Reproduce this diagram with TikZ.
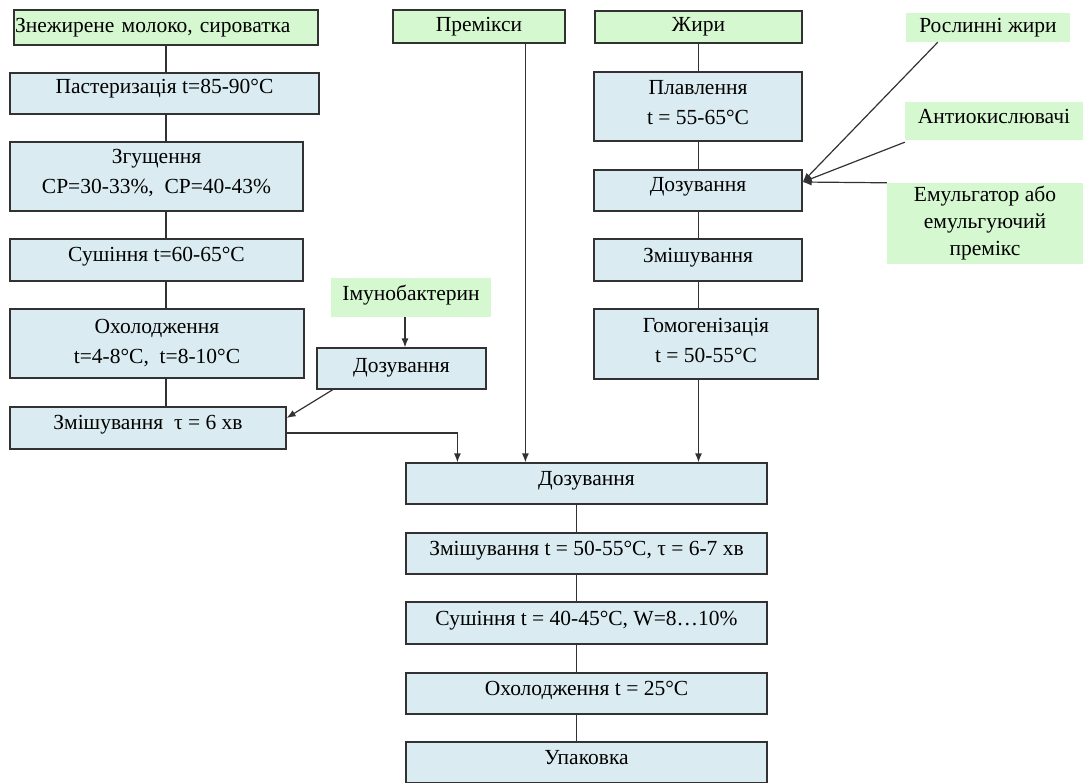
\documentclass[tikz,border=0pt]{standalone}
\usepackage{fontspec}
\setmainfont{Liberation Serif}
\usetikzlibrary{arrows.meta}
\definecolor{boxblue}{RGB}{218,236,241}
\definecolor{boxgreen}{RGB}{214,248,208}
\definecolor{edge}{RGB}{50,50,50}
\begin{document}
\begin{tikzpicture}[x=1pt,y=-1pt,font=\fontsize{21.5}{30}\selectfont,
  stage/.style={draw=edge,line width=1.2pt,fill=boxblue,align=center,inner sep=0pt,text depth=10pt},
  input/.style={fill=boxgreen,align=center,inner sep=0pt},
  link/.style={draw=edge,line width=1.2pt},
  feed/.style={link,-{Latex[length=9pt,width=7pt]}}]
\useasboundingbox (0,0) rectangle (1083,782);
\node[input,draw=edge,line width=1.2pt,minimum width=304pt,minimum height=35pt,text width=302pt,align=left] (milk) at (166,27.5) {Знежирене молоко, сироватка};
\node[stage,minimum width=309pt,minimum height=41pt,text depth=14pt] (past) at (164.5,93.5) {Пастеризація t=85-90°C};
\node[stage,minimum width=293pt,minimum height=69pt] (zgus) at (156.5,176.5) {Згущення\\СР=30-33\%,\ \ СР=40-43\%};
\node[stage,minimum width=293pt,minimum height=42pt,text depth=11pt] (sush) at (156.5,260) {Сушіння t=60-65°С};
\node[stage,minimum width=294pt,minimum height=69pt,text depth=5pt] (okhol) at (157,343.5) {Охолодження\\t=4-8°C,\ \ t=8-10°C};
\node[stage,minimum width=276pt,minimum height=42pt,text depth=11pt] (zmish) at (148,428) {Змішування\ \ τ = 6 хв};
\node[input,minimum width=160pt,minimum height=39pt,text depth=9pt] (imuno) at (411,297.5) {Імунобактерин};
\node[stage,minimum width=169pt,minimum height=41pt,text depth=7pt] (dozimuno) at (401.5,368.5) {Дозування};
\node[input,draw=edge,line width=1.2pt,minimum width=172pt,minimum height=33pt] (premix) at (479,26.5) {Премікси};
\node[input,draw=edge,line width=1.2pt,minimum width=207pt,minimum height=32pt] (fats) at (698.5,27) {Жири};
\node[stage,minimum width=208pt,minimum height=69pt,text depth=9pt] (melt) at (698,106.5) {Плавлення\\t = 55-65°C};
\node[stage,minimum width=208pt,minimum height=41pt,text depth=12pt] (dozfat) at (698,190.5) {Дозування};
\node[stage,minimum width=208pt,minimum height=42pt,text depth=9pt] (mixfat) at (698,260) {Змішування};
\node[stage,minimum width=224pt,minimum height=70pt,text depth=8pt] (homo) at (706,344) {Гомогенізація\\t = 50-55°C};
\node[input,minimum width=164pt,minimum height=29pt,text depth=5pt] (veg) at (988,27.5) {Рослинні жири};
\node[input,minimum width=178pt,minimum height=38pt,text depth=10pt] (anti) at (994,121) {Антиокислювачі};
\node[input,minimum width=196pt,minimum height=81pt] (emul) at (985,223.5) {Емульгатор або\\[-3pt]емульгуючий\\[-3pt]премікс};
\node[stage,minimum width=361pt,minimum height=41pt] (dozall) at (586.5,483.5) {Дозування};
\node[stage,minimum width=361pt,minimum height=41pt] (mixall) at (586.5,553.5) {Змішування t = 50-55°C, τ = 6-7 хв};
\node[stage,minimum width=361pt,minimum height=42pt] (dry) at (586.5,623) {Сушіння t = 40-45°C, W=8…10\%};
\node[stage,minimum width=361pt,minimum height=41pt] (cool) at (586.5,693.5) {Охолодження t = 25°C};
\node[stage,minimum width=361pt,minimum height=41pt] (pack) at (586.5,762.5) {Упаковка};
\coordinate (tip) at ([yshift=8.5pt]dozfat.east);
\coordinate (inmilk) at ([xshift=52pt]dozall.north west);
\coordinate (inpremix) at ([xshift=120pt]dozall.north west);
\coordinate (axis) at ([xshift=171pt]dozall.south west);
\draw[link] (milk.south) -- (milk.south |- past.north);
\draw[link] (milk.south |- past.south) -- (milk.south |- zgus.north);
\draw[link] (milk.south |- zgus.south) -- (milk.south |- sush.north);
\draw[link] (milk.south |- sush.south) -- (milk.south |- okhol.north);
\draw[link] (milk.south |- okhol.south) -- (milk.south |- zmish.north);
\draw[feed] ([xshift=-6pt]imuno.south) -- ([xshift=-6pt]imuno.south |- dozimuno.north);
\draw[feed] ([xshift=16.5pt]dozimuno.south west) -- ([yshift=10pt]zmish.east);
\draw[feed] ([yshift=-5pt]zmish.east) -| (inmilk);
\draw[feed] (inpremix |- premix.south) -- (inpremix);
\draw[link] (fats.south) -- (fats.south |- melt.north);
\draw[link] (fats.south |- melt.south) -- (fats.south |- dozfat.north);
\draw[link] (fats.south |- dozfat.south) -- (fats.south |- mixfat.north);
\draw[link] (fats.south |- mixfat.south) -- (fats.south |- homo.north);
\draw[feed] (fats.south |- homo.south) -- (fats.south |- dozall.north);
\draw[feed] ([xshift=32pt]veg.south west) -- (tip);
\draw[feed] ([yshift=-2pt]anti.south west) -- (tip);
\draw[feed] (emul.north west) -- (tip);
\draw[link] (axis) -- (axis |- mixall.north);
\draw[link] (axis |- mixall.south) -- (axis |- dry.north);
\draw[link] (axis |- dry.south) -- (axis |- cool.north);
\draw[link] (axis |- cool.south) -- (axis |- pack.north);
\end{tikzpicture}
\end{document}
